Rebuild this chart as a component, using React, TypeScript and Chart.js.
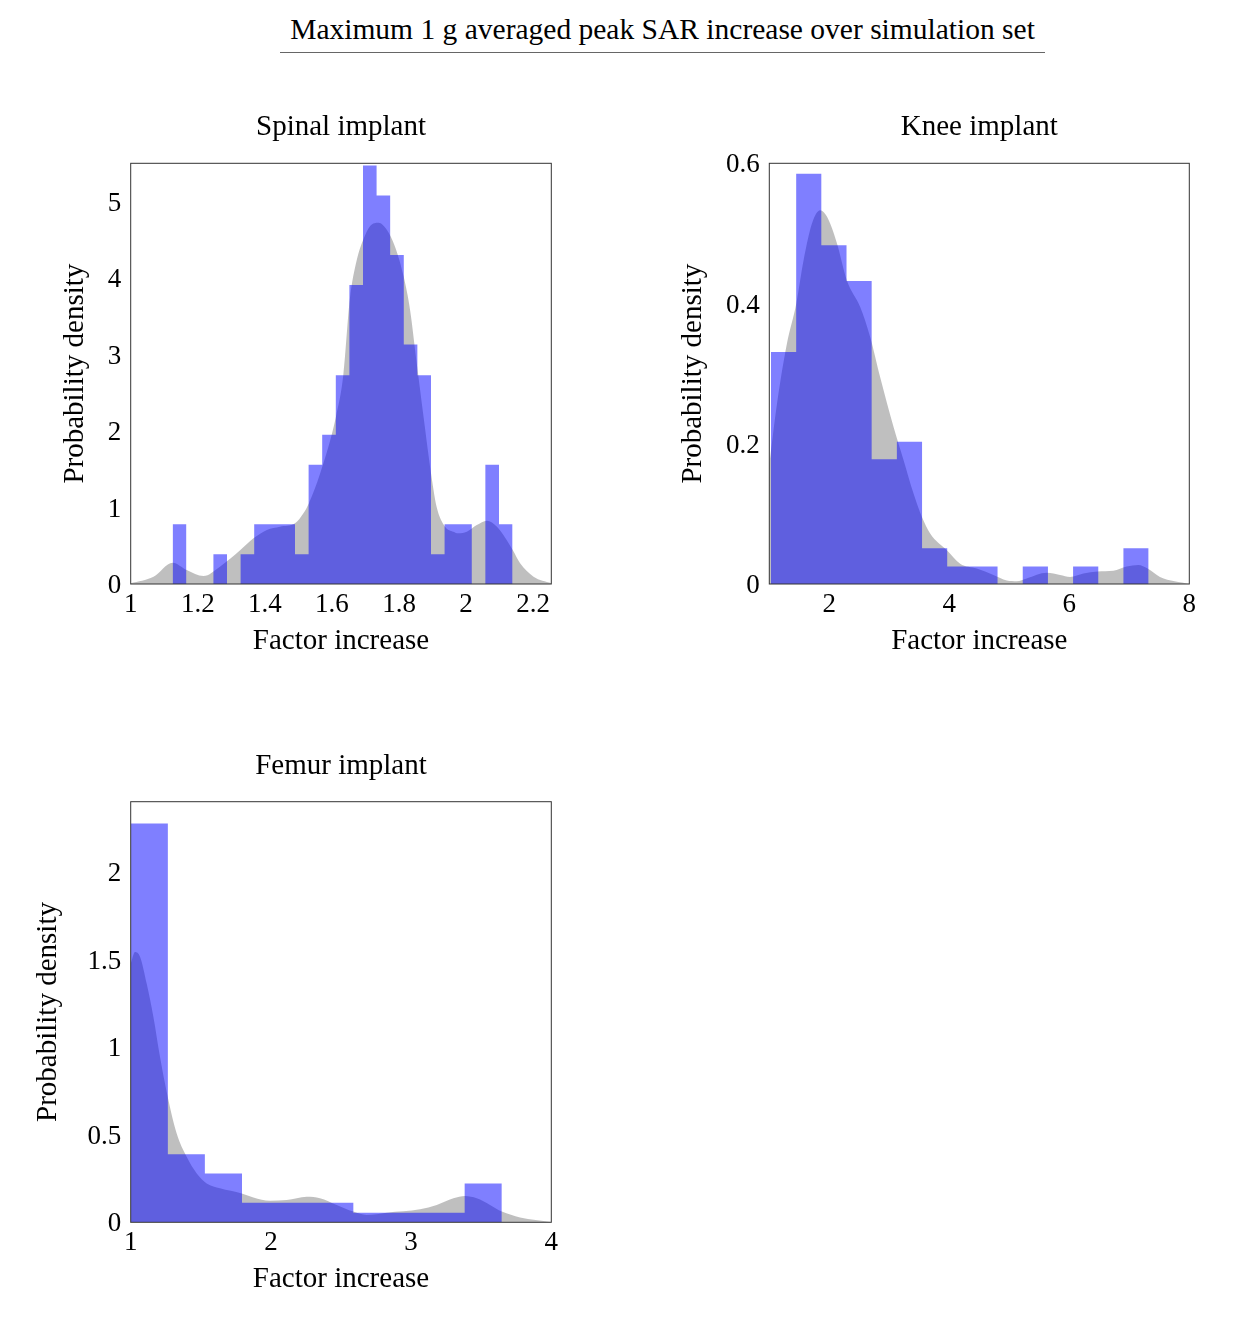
import React, { useEffect, useRef } from "react";
import { Chart, registerables } from "chart.js";

Chart.register(...registerables);

// ---------------- text ----------------
const mainTitle = "Maximum 1 g averaged peak SAR increase over simulation set";
const xAxisTitle = "Factor increase";
const yAxisTitle = "Probability density";

// ---------------- Spinal implant ----------------
const spinalTitle = "Spinal implant";
const spinalBinEdges = [
  1.125, 1.1655, 1.2061, 1.2466, 1.2872, 1.3277, 1.3682, 1.4088, 1.4493, 1.4899,
  1.5304, 1.5709, 1.6115, 1.652, 1.6926, 1.7331, 1.7736, 1.8142, 1.8547, 1.8953,
  1.9358, 1.9763, 2.0169, 2.0574, 2.098, 2.1385,
];
const spinalDensity = [
  0.78, 0, 0, 0.39, 0, 0.39, 0.78, 0.78, 0.78, 0.39, 1.56, 1.95, 2.73, 3.91, 5.47,
  5.08, 4.3, 3.13, 2.73, 0.39, 0.78, 0.78, 0, 1.56, 0.78,
];
const spinalKdeX = [
  1.0, 1.068, 1.125, 1.167, 1.217, 1.266, 1.327, 1.366, 1.406, 1.445, 1.49, 1.515,
  1.531, 1.565, 1.612, 1.634, 1.653, 1.674, 1.693, 1.714, 1.739, 1.764, 1.788,
  1.814, 1.833, 1.853, 1.873, 1.897, 1.912, 1.937, 1.962, 1.977, 2.002, 2.032,
  2.062, 2.092, 2.139, 2.161, 2.201, 2.254,
];
const spinalKdeY = [
  0.01, 0.096, 0.279, 0.183, 0.105, 0.227, 0.444, 0.597, 0.706, 0.749, 0.793, 0.924,
  1.054, 1.447, 2.187, 2.736, 3.71, 4.235, 4.497, 4.68, 4.723, 4.627, 4.41,
  4.017, 3.58, 2.88, 2.19, 1.4, 1.01, 0.75, 0.684, 0.662, 0.684, 0.771,
  0.828, 0.749, 0.444, 0.27, 0.096, 0.01,
];
const spinalXTicks = [1, 1.2, 1.4, 1.6, 1.8, 2, 2.2];
const spinalXTickLabels = ["1", "1.2", "1.4", "1.6", "1.8", "2", "2.2"];
const spinalYTicks = [0, 1, 2, 3, 4, 5];
const spinalYTickLabels = ["0", "1", "2", "3", "4", "5"];
const spinalXRange = [1, 2.254];
const spinalYRange = [0, 5.5];

// ---------------- Knee implant ----------------
const kneeTitle = "Knee implant";
const kneeBinEdges = [
  1.028, 1.448, 1.867, 2.287, 2.706, 3.126, 3.546, 3.965, 4.385, 4.804, 5.224, 5.644,
  6.063, 6.483, 6.902, 7.322,
];
const kneeDensity = [
  0.331, 0.585, 0.483, 0.432, 0.178, 0.203, 0.051, 0.025, 0.025, 0, 0.025, 0, 0.025,
  0, 0.051,
];
const kneeKdeX = [
  1.0, 1.128, 1.294, 1.45, 1.572, 1.711, 1.849, 1.96, 2.127, 2.293, 2.515, 2.682,
  2.848, 3.071, 3.237, 3.404, 3.542, 3.681, 3.959, 4.181, 4.458, 4.736, 4.958, 5.125,
  5.291, 5.624, 5.846, 6.013, 6.235, 6.473, 6.734, 6.956, 7.15, 7.306, 7.511, 8.0,
];
const kneeKdeY = [
  0.17, 0.257, 0.343, 0.4, 0.462, 0.514, 0.533, 0.524, 0.486, 0.433, 0.395, 0.352,
  0.295, 0.224, 0.177, 0.129, 0.096, 0.072, 0.048, 0.029, 0.022, 0.013, 0.005, 0.004,
  0.008, 0.016, 0.013, 0.01, 0.015, 0.018, 0.019, 0.025, 0.027, 0.022, 0.01, 0.0,
];
const kneeXTicks = [2, 4, 6, 8];
const kneeXTickLabels = ["2", "4", "6", "8"];
const kneeYTicks = [0, 0.2, 0.4, 0.6];
const kneeYTickLabels = ["0", "0.2", "0.4", "0.6"];
const kneeXRange = [1, 8];
const kneeYRange = [0, 0.6];

// ---------------- Femur implant ----------------
const femurTitle = "Femur implant";
const femurBinEdges = [1.0, 1.265, 1.529, 1.794, 2.059, 2.324, 2.588, 2.853, 3.118, 3.382, 3.647];
const femurDensity = [2.275, 0.389, 0.279, 0.112, 0.112, 0.112, 0.055, 0.055, 0.055, 0.222];
const femurKdeX = [
  1.0, 1.031, 1.067, 1.114, 1.162, 1.209, 1.264, 1.328, 1.399, 1.471, 1.542, 1.637,
  1.792, 1.875, 1.994, 2.113, 2.256, 2.35, 2.469, 2.588, 2.683, 2.826, 3.064, 3.183,
  3.302, 3.385, 3.468, 3.563, 3.647, 3.777, 4.0,
];
const femurKdeY = [
  1.476, 1.542, 1.514, 1.362, 1.172, 0.944, 0.716, 0.507, 0.374, 0.279, 0.222, 0.194,
  0.165, 0.142, 0.123, 0.127, 0.146, 0.137, 0.099, 0.061, 0.042, 0.055, 0.074, 0.099,
  0.137, 0.15, 0.137, 0.099, 0.061, 0.028, 0.002,
];
const femurXTicks = [1, 2, 3, 4];
const femurXTickLabels = ["1", "2", "3", "4"];
const femurYTicks = [0, 0.5, 1, 1.5, 2];
const femurYTickLabels = ["0", "0.5", "1", "1.5", "2"];
const femurXRange = [1, 4];
const femurYRange = [0, 2.4];

// ---------------- styling ----------------
const FONT = "'Liberation Serif', 'Times New Roman', serif";
const LABEL_SIZE = 29;
const TICK_SIZE = 27;
const LH = 1.2;
const BASELINE_FIX = 2; // canvas 'middle' sits slightly above the cap centre

type Geo = {
  left: number;
  top: number;
  width: number;
  height: number;
  plotL: number;
  plotR: number;
  plotT: number;
  plotB: number;
  titleCY: number;
  yTitleCX: number;
  xTitleCY: number;
  xTickCY: number;
};

const framePlugin = {
  id: "frame",
  afterDatasetsDraw(chart: any) {
    const { ctx, chartArea } = chart;
    ctx.save();
    ctx.strokeStyle = "#333333";
    ctx.lineWidth = 1;
    ctx.strokeRect(chartArea.left, chartArea.top, chartArea.right - chartArea.left, chartArea.bottom - chartArea.top);
    ctx.restore();
  },
};

type PanelProps = {
  title: string;
  edges: number[];
  density: number[];
  kdeX: number[];
  kdeY: number[];
  xTicks: number[];
  xTickLabels: string[];
  yTicks: number[];
  yTickLabels: string[];
  xRange: number[];
  yRange: number[];
  geo: Geo;
};

function Panel(props: PanelProps) {
  const ref = useRef<HTMLCanvasElement | null>(null);
  const { geo } = props;

  useEffect(() => {
    if (!ref.current) return;
    const labelLH = LABEL_SIZE * LH;
    const tickLH = TICK_SIZE * LH;
    const titlePadTop = geo.titleCY + BASELINE_FIX - geo.top - labelLH / 2;
    const titlePadBottom = geo.plotT - geo.top - labelLH - titlePadTop;
    const yAxisWidth = geo.plotL - geo.left;
    const xAxisHeight = geo.top + geo.height - geo.plotB;
    const xTitlePadBottom = geo.top + geo.height - (geo.xTitleCY + BASELINE_FIX) - labelLH / 2;
    const xTickPad = geo.xTickCY + BASELINE_FIX - geo.plotB - tickLH / 2;
    const yTitlePadTop = geo.yTitleCX - geo.left - labelLH / 2;
    const padRight = geo.left + geo.width - geo.plotR;

    const histData = props.edges.map((e, i) => ({
      x: e,
      y: i < props.density.length ? props.density[i] : 0,
    }));
    const kdeData = props.kdeX.map((x, i) => ({ x, y: props.kdeY[i] }));

    const chart = new Chart(ref.current, {
      type: "line",
      data: {
        datasets: [
          {
            label: "Histogram",
            data: histData,
            stepped: true,
            fill: "origin",
            backgroundColor: "rgba(0,0,255,0.5)",
            borderColor: "rgba(0,0,0,0)",
            borderWidth: 0,
            pointRadius: 0,
            order: 0,
          },
          {
            label: "KDE",
            data: kdeData,
            fill: "origin",
            backgroundColor: "rgba(128,128,128,0.5)",
            borderColor: "rgba(0,0,0,0)",
            borderWidth: 0,
            pointRadius: 0,
            cubicInterpolationMode: "monotone",
            order: 1,
          },
        ],
      } as any,
      options: {
        animation: false,
        responsive: false,
        events: [],
        layout: { padding: { left: 0, top: 0, right: padRight, bottom: 0 } },
        plugins: {
          legend: { display: false },
          tooltip: { enabled: false },
          title: {
            display: true,
            text: props.title,
            fullSize: false,
            color: "#000",
            font: { family: FONT, size: LABEL_SIZE, weight: "normal", lineHeight: LH },
            padding: { top: titlePadTop, bottom: titlePadBottom },
          },
        },
        scales: {
          x: {
            type: "linear",
            position: "bottom",
            min: props.xRange[0],
            max: props.xRange[1],
            grid: { display: false, drawTicks: false },
            border: { display: false },
            afterBuildTicks: (s: any) => {
              s.ticks = props.xTicks.map((v) => ({ value: v }));
            },
            afterFit: (s: any) => {
              s.height = xAxisHeight;
            },
            ticks: {
              autoSkip: false,
              maxRotation: 0,
              minRotation: 0,
              padding: xTickPad,
              color: "#000",
              font: { family: FONT, size: TICK_SIZE, lineHeight: LH },
              callback: (_v: any, i: number) => props.xTickLabels[i],
            },
            title: {
              display: true,
              text: xAxisTitle,
              color: "#000",
              font: { family: FONT, size: LABEL_SIZE, lineHeight: LH },
              padding: { top: 0, bottom: xTitlePadBottom },
            },
          },
          y: {
            type: "linear",
            position: "left",
            min: props.yRange[0],
            max: props.yRange[1],
            grid: { display: false, drawTicks: false },
            border: { display: false },
            afterBuildTicks: (s: any) => {
              s.ticks = props.yTicks.map((v) => ({ value: v }));
            },
            afterFit: (s: any) => {
              s.width = yAxisWidth;
            },
            ticks: {
              autoSkip: false,
              padding: 9.5,
              labelOffset: BASELINE_FIX,
              color: "#000",
              font: { family: FONT, size: TICK_SIZE, lineHeight: LH },
              callback: (_v: any, i: number) => props.yTickLabels[i],
            },
            title: {
              display: true,
              text: yAxisTitle,
              color: "#000",
              font: { family: FONT, size: LABEL_SIZE, lineHeight: LH },
              padding: { top: yTitlePadTop, bottom: 0 },
            },
          },
        },
      } as any,
      plugins: [framePlugin],
    });
    return () => chart.destroy();
  }, []);

  return (
    <canvas
      ref={ref}
      width={geo.width}
      height={geo.height}
      style={{ position: "absolute", left: geo.left, top: geo.top, width: geo.width, height: geo.height }}
    />
  );
}

const spinalGeo: Geo = {
  left: 0, top: 80, width: 600, height: 584,
  plotL: 130.7, plotR: 551.3, plotT: 163.3, plotB: 584,
  titleCY: 125.5, yTitleCX: 75, xTitleCY: 639.2, xTickCY: 602.5,
};
const kneeGeo: Geo = {
  left: 640, top: 80, width: 600, height: 584,
  plotL: 769.3, plotR: 1189.3, plotT: 163.3, plotB: 584,
  titleCY: 125.5, yTitleCX: 693, xTitleCY: 639.2, xTickCY: 602.5,
};
const femurGeo: Geo = {
  left: 0, top: 718, width: 600, height: 584,
  plotL: 130.7, plotR: 551.3, plotT: 801.7, plotB: 1222.3,
  titleCY: 764, yTitleCX: 48, xTitleCY: 1277.5, xTickCY: 1240.8,
};

export default function App() {
  useEffect(() => {
    document.body.style.margin = "0";
  }, []);
  return (
    <div style={{ position: "absolute", left: 0, top: 0, width: 1243, height: 1328, background: "#fff" }}>
      <div
        style={{
          position: "absolute",
          left: 280,
          top: 12,
          width: 765,
          textAlign: "center",
          fontFamily: FONT,
          fontSize: 29.5,
          lineHeight: "34px",
          paddingBottom: 5.5,
          borderBottom: "1px solid #666",
          color: "#000",
          whiteSpace: "nowrap",
        }}
      >
        {mainTitle}
      </div>
      <Panel
        title={spinalTitle}
        edges={spinalBinEdges}
        density={spinalDensity}
        kdeX={spinalKdeX}
        kdeY={spinalKdeY}
        xTicks={spinalXTicks}
        xTickLabels={spinalXTickLabels}
        yTicks={spinalYTicks}
        yTickLabels={spinalYTickLabels}
        xRange={spinalXRange}
        yRange={spinalYRange}
        geo={spinalGeo}
      />
      <Panel
        title={kneeTitle}
        edges={kneeBinEdges}
        density={kneeDensity}
        kdeX={kneeKdeX}
        kdeY={kneeKdeY}
        xTicks={kneeXTicks}
        xTickLabels={kneeXTickLabels}
        yTicks={kneeYTicks}
        yTickLabels={kneeYTickLabels}
        xRange={kneeXRange}
        yRange={kneeYRange}
        geo={kneeGeo}
      />
      <Panel
        title={femurTitle}
        edges={femurBinEdges}
        density={femurDensity}
        kdeX={femurKdeX}
        kdeY={femurKdeY}
        xTicks={femurXTicks}
        xTickLabels={femurXTickLabels}
        yTicks={femurYTicks}
        yTickLabels={femurYTickLabels}
        xRange={femurXRange}
        yRange={femurYRange}
        geo={femurGeo}
      />
    </div>
  );
}
